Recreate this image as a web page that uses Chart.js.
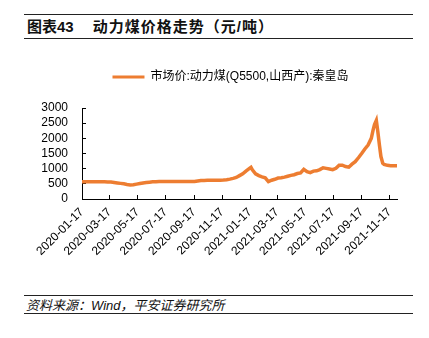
<!DOCTYPE html>
<html><head><meta charset="utf-8">
<script src="https://cdn.jsdelivr.net/npm/chart.js@4"></script>
<style>
html,body{margin:0;padding:0;background:#fff;width:429px;height:338px;overflow:hidden;}
.rule{position:absolute;left:24px;width:389px;height:0;border-top:1.5px solid #222;}
#title{position:absolute;left:27px;top:18px;font:bold 15px 'Liberation Sans','Noto Sans CJK SC',sans-serif;color:#111;white-space:pre;line-height:18px}
#title .cn{letter-spacing:1px}
#foot{position:absolute;left:26px;top:297px;font:italic 13px 'Liberation Sans','Noto Sans CJK SC',sans-serif;color:#111;line-height:17px;white-space:pre}
#wrap{position:absolute;left:0px;top:47px;width:429px;height:223px}
</style></head><body>
<div class="rule" style="top:14px"></div>
<div id="title">图表43　 <span class="cn">动力煤价格走势（元/吨）</span></div>
<div class="rule" style="top:38px"></div>
<div id="wrap"><canvas id="c" width="429" height="223"></canvas></div>
<div class="rule" style="top:295px"></div>
<div id="foot">资料来源：Wind，平安证券研究所</div>
<div class="rule" style="top:313px"></div>
<script>
const seriesName = '市场价:动力煤(Q5500,山西产):秦皇岛';
const dates = [
'2020-01-17','2020-01-24','2020-01-31','2020-02-07','2020-02-14','2020-02-21','2020-02-28','2020-03-06','2020-03-13','2020-03-20',
'2020-03-27','2020-04-03','2020-04-10','2020-04-17','2020-04-24','2020-05-01','2020-05-08','2020-05-15','2020-05-22','2020-05-29',
'2020-06-05','2020-06-12','2020-06-19','2020-06-26','2020-07-03','2020-07-10','2020-07-17','2020-07-24','2020-07-31','2020-08-07',
'2020-08-14','2020-08-21','2020-08-28','2020-09-04','2020-09-11','2020-09-18','2020-09-25','2020-10-02','2020-10-09','2020-10-16',
'2020-10-23','2020-10-30','2020-11-06','2020-11-13','2020-11-20','2020-11-27','2020-12-04','2020-12-11','2020-12-18','2020-12-25',
'2021-01-01','2021-01-08','2021-01-15','2021-01-19','2021-01-22','2021-01-29','2021-02-05','2021-02-12','2021-02-19','2021-02-26',
'2021-03-05','2021-03-12','2021-03-19','2021-03-26','2021-04-02','2021-04-09','2021-04-16','2021-04-23','2021-04-30','2021-05-07',
'2021-05-14','2021-05-21','2021-05-28','2021-06-04','2021-06-11','2021-06-18','2021-06-25','2021-07-02','2021-07-09','2021-07-16',
'2021-07-23','2021-07-30','2021-08-06','2021-08-13','2021-08-20','2021-08-27','2021-09-03','2021-09-10','2021-09-17','2021-09-24',
'2021-10-01','2021-10-08','2021-10-12','2021-10-15','2021-10-19','2021-10-22','2021-10-26','2021-10-29','2021-11-02','2021-11-05',
'2021-11-12','2021-11-19','2021-11-26','2021-12-03'
];
const prices = [
570,570,570,570,570,568,565,565,562,558,
545,530,515,500,480,465,470,490,510,530,
545,555,565,570,575,575,575,575,575,575,
575,575,575,575,575,580,595,610,612,615,
615,615,618,620,625,635,655,680,710,770,
830,920,1000,1045,960,830,770,730,700,575,
620,650,690,700,720,750,780,800,840,860,
980,900,870,920,930,970,1030,1010,990,965,
1010,1110,1115,1070,1050,1150,1230,1360,1500,1650,
1780,2000,2280,2450,2590,2250,1750,1400,1180,1140,
1110,1100,1100,1100
];
const tickDates = ['2020-01-17','2020-03-17','2020-05-17','2020-07-17','2020-09-17','2020-11-17','2021-01-17','2021-03-17','2021-05-17','2021-07-17','2021-09-17','2021-11-17'];
const yTicks = [0,500,1000,1500,2000,2500,3000];

const DAY = 86400000;
const t0 = Date.parse(dates[0] + 'T00:00:00Z');
const toDay = s => Math.round((Date.parse(s + 'T00:00:00Z') - t0) / DAY);
const points = dates.map((d, i) => ({x: toDay(d), y: prices[i]}));
const tickDays = tickDates.map(toDay);
const FONT = "'Liberation Sans','Noto Sans CJK SC',sans-serif";
Chart.defaults.font.family = FONT;
Chart.defaults.color = '#000';

const legendGap = {
  id: 'legendGap',
  beforeInit(chart) {
    const lg = chart.legend;
    if (!lg) return;
    const fit = lg.fit;
    lg.fit = function () { fit.call(this); this.height += 15; };
  }
};

new Chart(document.getElementById('c'), {
  type: 'line',
  data: {datasets: [{label: seriesName, data: points, borderColor: '#ED7D31', backgroundColor: '#ED7D31',
    borderWidth: 3.5, pointRadius: 0, tension: 0, fill: false}]},
  plugins: [legendGap],
  options: {
    responsive: false, animation: false, devicePixelRatio: 1,
    layout: {padding: {top: 14, right: 4, left: 36, bottom: 0}},
    plugins: {
      legend: {display: true, position: 'top',
        labels: {boxWidth: 32, boxHeight: 3, padding: 10, font: {size: 12}, color: '#000',
          generateLabels(chart) {
            const ds = chart.data.datasets[0];
            return [{text: ds.label, fillStyle: '#ED7D31', strokeStyle: '#ED7D31', lineWidth: 0, datasetIndex: 0, hidden: false}];
          }}},
      tooltip: {enabled: false}
    },
    scales: {
      x: {type: 'linear', min: 0, max: points[points.length - 1].x,
        afterBuildTicks(s) { s.ticks = tickDays.map(v => ({value: v})); },
        afterFit(s) { s.height = 71; },
        grid: {display: true, drawOnChartArea: false, drawTicks: true, tickLength: -4, color: '#000', lineWidth: 1},
        border: {display: true, color: '#000', width: 1},
        ticks: {autoSkip: false, minRotation: 45, maxRotation: 45, padding: 10, font: {size: 12}, color: '#000',
          callback: (v) => { const i = tickDays.indexOf(v); return i >= 0 ? tickDates[i] : ''; }}},
      y: {min: 0, max: 3000,
        afterBuildTicks(s) { s.ticks = yTicks.map(v => ({value: v})); },
        afterFit(s) { s.width = 46; },
        grid: {drawOnChartArea: false, tickLength: -4, color: '#000'},
        border: {display: true, color: '#000', width: 1},
        ticks: {autoSkip: false, padding: 18, font: {size: 12}, color: '#000', callback: (v) => String(v)}},
      spacer: {type: 'linear', position: 'right', display: true,
        afterFit(s) { s.width = 28; },
        grid: {display: false, drawTicks: false}, border: {display: false},
        ticks: {display: false}}
    }
  }
});
</script>
</body></html>
